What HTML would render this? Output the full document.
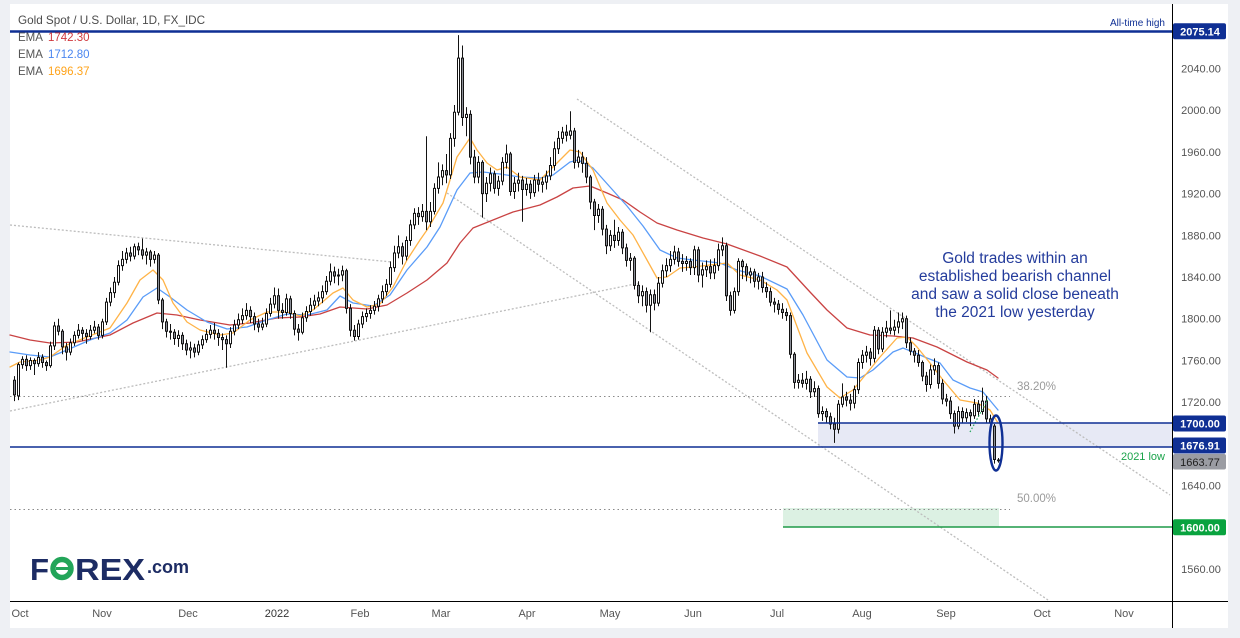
<!DOCTYPE html>
<html><head><meta charset="utf-8"><title>Gold Spot / U.S. Dollar</title>
<style>
html,body{margin:0;padding:0;background:#eef0f4;overflow:hidden;width:1240px;height:638px;}
svg{display:block;font-family:"Liberation Sans",Arial,sans-serif;}
</style></head><body>
<svg width="1240" height="638" viewBox="0 0 1240 638" xmlns="http://www.w3.org/2000/svg">
<rect width="1240" height="638" fill="#eef0f4"/>
<rect x="10" y="4" width="1218" height="624" fill="#ffffff"/>

<!-- zones -->
<rect x="818" y="423" width="354" height="24" fill="#e7e9f5"/>
<rect x="783" y="508" width="216" height="19" fill="#dcf1e3"/>

<!-- dotted trend lines -->
<g fill="none" stroke="#bdbdbd" stroke-width="1.3" stroke-dasharray="2 2">
<line x1="10" y1="225" x2="392" y2="262"/>
<line x1="10" y1="411" x2="640" y2="283"/>
<line x1="577" y1="99" x2="1170" y2="495"/>
<line x1="447" y1="193" x2="1048" y2="600"/>
</g>
<g fill="none" stroke="#8a8a8a" stroke-width="1" stroke-dasharray="1.5 3">
<line x1="10" y1="396.5" x2="1010" y2="396.5"/>
<line x1="10" y1="509.5" x2="1010" y2="509.5"/>
</g>
<text x="1017" y="390" font-size="11.5" fill="#9a9a9a">38.20%</text>
<text x="1017" y="502" font-size="11.5" fill="#9a9a9a">50.00%</text>

<!-- EMAs -->
<g fill="none" stroke-width="1.3" stroke-linejoin="round" stroke-linecap="round">
<polyline stroke="#c94343" points="10,335 30,340 50,343 77,342 110,335 133,323 157,313 177,315 200,320 230,325 250,323 277,318 300,317 320,314 340,307 367,309 387,305 407,293 427,280 447,263 460,243 473,228 493,220 513,212 540,205 557,197 573,188 590,186 607,193 623,200 640,212 657,223 677,230 703,238 727,244 760,256 787,267 810,292 827,310 847,328 870,335 893,336 913,338 937,347 967,362 987,370 998,378"/>
<polyline stroke="#5a9cf8" points="10,352 30,355 50,357 67,350 90,340 110,333 127,320 143,297 157,288 170,297 187,310 207,322 227,329 247,327 267,320 287,314 307,315 327,310 340,296 353,303 373,306 390,295 407,270 427,247 440,227 457,190 470,173 483,172 500,174 520,177 540,178 553,175 570,162 578,160 593,168 610,187 627,206 643,226 660,250 677,258 693,260 720,263 737,270 760,276 787,289 803,315 827,360 847,377 860,378 873,370 893,352 903,348 913,352 927,358 940,363 953,380 970,388 983,392 998,410"/>
<polyline stroke="#ffb347" points="10,367 20,362 40,360 50,357 67,345 87,337 110,328 127,303 140,280 153,270 163,280 173,303 187,322 200,330 220,335 233,333 250,320 267,312 287,312 300,316 313,310 333,293 343,288 353,300 367,307 380,304 393,287 407,260 420,240 427,230 443,203 457,157 470,138 477,150 487,163 497,170 507,167 520,177 540,180 553,167 570,150 580,152 593,170 607,203 620,220 633,235 647,260 657,278 667,277 680,268 693,267 710,265 727,263 740,275 760,280 777,290 787,300 807,353 827,387 840,398 853,390 867,373 880,357 897,338 907,337 917,347 930,363 943,380 960,400 977,403 990,410 998,423"/>
</g>

<!-- candles (price coordinates) -->
<g transform="matrix(1 0 0 -1.0427 0 2195.608)">
<path fill="none" stroke="#131313" stroke-width="1" vector-effect="non-scaling-stroke" d="M14.5 1721V1745M18.5 1722V1758M22.5 1752V1764M26.5 1750V1765M30.5 1751V1763M34.5 1746V1762M38.5 1754V1768M42.5 1753V1766M46.5 1750V1760M50.5 1753V1778M54.5 1770V1797M58.5 1784V1800M62.5 1766V1790M66.5 1760V1777M70.5 1765V1781M74.5 1774V1788M78.5 1781V1795M82.5 1779V1792M86.5 1776V1790M90.5 1780V1794M94.5 1786V1798M98.5 1780V1795M102.5 1781V1800M106.5 1794V1820M110.5 1812V1830M114.5 1820V1840M118.5 1832V1856M122.5 1846V1865M126.5 1853V1868M130.5 1855V1869M134.5 1857V1872M138.5 1861V1873M142.5 1857V1877M146.5 1852V1868M150.5 1850V1866M154.5 1853V1865M158.5 1814V1863M162.5 1790V1820M166.5 1782V1800M170.5 1780V1795M174.5 1775V1790M178.5 1773V1789M182.5 1770V1787M186.5 1765V1780M190.5 1762V1778M194.5 1763V1776M198.5 1765V1779M202.5 1771V1784M206.5 1777V1790M210.5 1781V1794M214.5 1780V1796M218.5 1774V1790M222.5 1770V1786M226.5 1753V1784M230.5 1772V1792M234.5 1784V1799M238.5 1790V1805M242.5 1795V1810M246.5 1799V1815M250.5 1796V1812M254.5 1789V1806M258.5 1787V1800M262.5 1789V1801M266.5 1792V1810M270.5 1802V1820M274.5 1810V1830M278.5 1800V1829M282.5 1800V1815M286.5 1803V1824M290.5 1800V1822M294.5 1784V1808M298.5 1779V1795M302.5 1785V1806M306.5 1797V1812M310.5 1803V1820M314.5 1809V1823M318.5 1812V1826M322.5 1815V1832M326.5 1823V1841M330.5 1832V1853M334.5 1834V1850M338.5 1832V1848M342.5 1836V1851M346.5 1805V1848M350.5 1783V1814M354.5 1779V1794M358.5 1780V1799M362.5 1791V1807M366.5 1797V1810M370.5 1800V1813M374.5 1804V1817M378.5 1807V1823M382.5 1815V1832M386.5 1822V1838M390.5 1830V1855M394.5 1845V1870M398.5 1858V1880M402.5 1852V1873M406.5 1856V1879M410.5 1870V1895M414.5 1886V1906M418.5 1890V1907M422.5 1893V1910M426.5 1885V1975M430.5 1888V1912M434.5 1900V1930M438.5 1920V1950M442.5 1928V1948M446.5 1930V1958M450.5 1934V1978M454.5 1965V2005M458.5 1995V2072M462.5 1985V2062M466.5 1975V2003M470.5 1948V2000M474.5 1930V1962M478.5 1930V1956M482.5 1897V1952M486.5 1912V1936M490.5 1922V1945M494.5 1920V1942M498.5 1918V1937M502.5 1928V1955M506.5 1944V1967M510.5 1918V1960M514.5 1915V1936M518.5 1922V1940M522.5 1893V1937M526.5 1918V1935M530.5 1915V1933M534.5 1917V1938M538.5 1922V1940M542.5 1921V1936M546.5 1924V1942M550.5 1933V1955M554.5 1942V1970M558.5 1958V1980M562.5 1968V1984M566.5 1970V1986M570.5 1972V1999M574.5 1944V1983M578.5 1945V1962M582.5 1940V1960M586.5 1930V1955M590.5 1905V1938M594.5 1885V1915M598.5 1892V1910M602.5 1880V1908M606.5 1862V1890M610.5 1865V1885M614.5 1868V1895M618.5 1870V1888M622.5 1862V1886M626.5 1850V1872M630.5 1846V1863M634.5 1828V1860M638.5 1815V1836M642.5 1812V1832M646.5 1806V1830M650.5 1787V1828M654.5 1808V1828M658.5 1812V1840M662.5 1830V1852M666.5 1840V1858M670.5 1845V1865M674.5 1852V1870M678.5 1850V1868M682.5 1845V1862M686.5 1846V1860M690.5 1842V1858M694.5 1842V1870M698.5 1835V1869M702.5 1830V1854M706.5 1840V1856M710.5 1838V1857M714.5 1838V1858M718.5 1846V1872M722.5 1860V1878M726.5 1817V1873M730.5 1803V1826M734.5 1805V1830M738.5 1822V1858M742.5 1838V1857M746.5 1836V1853M750.5 1834V1849M754.5 1830V1848M758.5 1828V1844M762.5 1825V1845M766.5 1820V1835M770.5 1812V1830M774.5 1806V1820M778.5 1804V1818M782.5 1800V1815M786.5 1798V1810M790.5 1762V1806M794.5 1733V1768M798.5 1733V1747M802.5 1734V1748M806.5 1732V1750M810.5 1724V1745M814.5 1725V1740M818.5 1705V1736M822.5 1702V1716M826.5 1700V1714M830.5 1694V1710M834.5 1681V1705M838.5 1690V1722M842.5 1715V1738M846.5 1716V1730M850.5 1712V1728M854.5 1714V1736M858.5 1728V1762M862.5 1752V1770M866.5 1758V1774M870.5 1755V1772M874.5 1758V1793M878.5 1766V1792M882.5 1768V1792M886.5 1782V1798M890.5 1785V1808M894.5 1784V1799M898.5 1786V1806M902.5 1790V1806M906.5 1772V1803M910.5 1765V1782M914.5 1758V1772M918.5 1754V1770M922.5 1740V1760M926.5 1730V1749M930.5 1733V1756M934.5 1746V1762M938.5 1733V1758M942.5 1718V1742M946.5 1716V1728M950.5 1704V1725M954.5 1690V1712M958.5 1694V1716M962.5 1700V1715M966.5 1701V1714M970.5 1697V1713M974.5 1704V1723M978.5 1706V1722M982.5 1708V1734M986.5 1700V1726M990.5 1695V1708M994.5 1661V1699M998.5 1662V1666.5"/>
<path fill="#ffffff" stroke="#131313" stroke-width="1" vector-effect="non-scaling-stroke" d="M17.5 1726h2V1756h-2ZM21.5 1756h2V1761h-2ZM29.5 1755h2V1760h-2ZM37.5 1757h2V1763h-2ZM49.5 1755h2V1774h-2ZM53.5 1774h2V1793h-2ZM69.5 1768h2V1777h-2ZM73.5 1777h2V1784h-2ZM77.5 1784h2V1789h-2ZM89.5 1783h2V1789h-2ZM93.5 1789h2V1792h-2ZM101.5 1784h2V1797h-2ZM105.5 1797h2V1816h-2ZM109.5 1816h2V1825h-2ZM113.5 1825h2V1835h-2ZM117.5 1835h2V1851h-2ZM121.5 1851h2V1857h-2ZM125.5 1857h2V1863h-2ZM133.5 1860h2V1869h-2ZM145.5 1861h2V1864h-2ZM153.5 1857h2V1861h-2ZM177.5 1781h2V1784h-2ZM189.5 1770h2V1772h-2ZM197.5 1768h2V1775h-2ZM201.5 1775h2V1780h-2ZM205.5 1780h2V1785h-2ZM209.5 1785h2V1789h-2ZM229.5 1776h2V1788h-2ZM233.5 1788h2V1794h-2ZM237.5 1794h2V1799h-2ZM241.5 1799h2V1803h-2ZM245.5 1803h2V1808h-2ZM261.5 1792h2V1795h-2ZM265.5 1795h2V1805h-2ZM269.5 1805h2V1814h-2ZM273.5 1814h2V1822h-2ZM285.5 1806h2V1819h-2ZM301.5 1787h2V1801h-2ZM305.5 1801h2V1807h-2ZM309.5 1807h2V1813h-2ZM313.5 1813h2V1817h-2ZM317.5 1817h2V1820h-2ZM321.5 1820h2V1826h-2ZM325.5 1826h2V1836h-2ZM329.5 1836h2V1845h-2ZM337.5 1841h2V1842h-2ZM341.5 1842h2V1846h-2ZM357.5 1783h2V1795h-2ZM361.5 1795h2V1802h-2ZM365.5 1802h2V1805h-2ZM369.5 1805h2V1808h-2ZM373.5 1808h2V1812h-2ZM377.5 1812h2V1819h-2ZM381.5 1819h2V1826h-2ZM385.5 1826h2V1833h-2ZM389.5 1833h2V1849h-2ZM393.5 1849h2V1863h-2ZM397.5 1863h2V1869h-2ZM405.5 1860h2V1875h-2ZM409.5 1875h2V1890h-2ZM413.5 1890h2V1901h-2ZM421.5 1898h2V1903h-2ZM429.5 1893h2V1903h-2ZM433.5 1903h2V1925h-2ZM437.5 1925h2V1936h-2ZM441.5 1936h2V1942h-2ZM449.5 1938h2V1973h-2ZM453.5 1973h2V1998h-2ZM457.5 1998h2V2050h-2ZM465.5 1993h2V1996h-2ZM477.5 1936h2V1950h-2ZM485.5 1920h2V1930h-2ZM489.5 1930h2V1939h-2ZM497.5 1925h2V1932h-2ZM501.5 1932h2V1950h-2ZM505.5 1950h2V1958h-2ZM513.5 1922h2V1930h-2ZM517.5 1930h2V1933h-2ZM525.5 1924h2V1929h-2ZM533.5 1921h2V1933h-2ZM541.5 1929h2V1931h-2ZM545.5 1931h2V1937h-2ZM549.5 1937h2V1947h-2ZM553.5 1947h2V1963h-2ZM557.5 1963h2V1973h-2ZM561.5 1973h2V1979h-2ZM569.5 1976h2V1980h-2ZM577.5 1950h2V1955h-2ZM597.5 1899h2V1905h-2ZM609.5 1870h2V1880h-2ZM617.5 1875h2V1883h-2ZM629.5 1856h2V1858h-2ZM641.5 1822h2V1826h-2ZM649.5 1813h2V1823h-2ZM657.5 1815h2V1834h-2ZM661.5 1834h2V1846h-2ZM665.5 1846h2V1851h-2ZM669.5 1851h2V1857h-2ZM673.5 1857h2V1864h-2ZM685.5 1853h2V1855h-2ZM693.5 1849h2V1866h-2ZM701.5 1842h2V1847h-2ZM705.5 1847h2V1850h-2ZM713.5 1844h2V1851h-2ZM717.5 1851h2V1866h-2ZM721.5 1866h2V1870h-2ZM733.5 1808h2V1826h-2ZM737.5 1826h2V1855h-2ZM749.5 1842h2V1845h-2ZM757.5 1836h2V1840h-2ZM797.5 1739h2V1741h-2ZM805.5 1738h2V1742h-2ZM813.5 1730h2V1733h-2ZM821.5 1709h2V1711h-2ZM837.5 1694h2V1718h-2ZM841.5 1718h2V1725h-2ZM853.5 1719h2V1732h-2ZM857.5 1732h2V1758h-2ZM861.5 1758h2V1765h-2ZM865.5 1765h2V1768h-2ZM873.5 1762h2V1789h-2ZM881.5 1771h2V1787h-2ZM885.5 1787h2V1791h-2ZM893.5 1789h2V1792h-2ZM897.5 1792h2V1797h-2ZM901.5 1797h2V1800h-2ZM929.5 1737h2V1751h-2ZM933.5 1751h2V1755h-2ZM957.5 1697h2V1711h-2ZM965.5 1705h2V1710h-2ZM973.5 1707h2V1718h-2ZM981.5 1711h2V1721h-2Z"/>
<path fill="#8c8f98" stroke="#131313" stroke-width="1" vector-effect="non-scaling-stroke" d="M13.5 1741h2V1727h-2ZM25.5 1761h2V1755h-2ZM33.5 1760h2V1757h-2ZM41.5 1763h2V1758h-2ZM45.5 1758h2V1755h-2ZM57.5 1793h2V1788h-2ZM61.5 1788h2V1773h-2ZM65.5 1773h2V1768h-2ZM81.5 1789h2V1786h-2ZM85.5 1786h2V1783h-2ZM97.5 1792h2V1784h-2ZM129.5 1863h2V1860h-2ZM137.5 1869h2V1866h-2ZM141.5 1866h2V1861h-2ZM149.5 1864h2V1857h-2ZM157.5 1861h2V1818h-2ZM161.5 1818h2V1797h-2ZM165.5 1797h2V1788h-2ZM169.5 1788h2V1787h-2ZM173.5 1787h2V1781h-2ZM181.5 1784h2V1776h-2ZM185.5 1776h2V1770h-2ZM193.5 1772h2V1768h-2ZM213.5 1789h2V1786h-2ZM217.5 1786h2V1782h-2ZM221.5 1782h2V1780h-2ZM225.5 1780h2V1776h-2ZM249.5 1808h2V1802h-2ZM253.5 1802h2V1795h-2ZM257.5 1795h2V1792h-2ZM277.5 1822h2V1808h-2ZM281.5 1808h2V1806h-2ZM289.5 1819h2V1805h-2ZM293.5 1805h2V1790h-2ZM297.5 1790h2V1787h-2ZM333.5 1845h2V1841h-2ZM345.5 1846h2V1810h-2ZM349.5 1810h2V1789h-2ZM353.5 1789h2V1783h-2ZM401.5 1869h2V1860h-2ZM417.5 1901h2V1898h-2ZM425.5 1903h2V1893h-2ZM445.5 1942h2V1938h-2ZM461.5 2050h2V1993h-2ZM469.5 1996h2V1955h-2ZM473.5 1955h2V1936h-2ZM481.5 1950h2V1920h-2ZM493.5 1939h2V1925h-2ZM509.5 1958h2V1922h-2ZM521.5 1933h2V1924h-2ZM529.5 1929h2V1921h-2ZM537.5 1933h2V1929h-2ZM565.5 1979h2V1976h-2ZM573.5 1980h2V1950h-2ZM581.5 1955h2V1949h-2ZM585.5 1949h2V1936h-2ZM589.5 1936h2V1912h-2ZM593.5 1912h2V1899h-2ZM601.5 1905h2V1886h-2ZM605.5 1886h2V1870h-2ZM613.5 1880h2V1875h-2ZM621.5 1883h2V1868h-2ZM625.5 1868h2V1856h-2ZM633.5 1858h2V1832h-2ZM637.5 1832h2V1822h-2ZM645.5 1826h2V1813h-2ZM653.5 1823h2V1815h-2ZM677.5 1864h2V1855h-2ZM681.5 1855h2V1853h-2ZM689.5 1855h2V1849h-2ZM697.5 1866h2V1842h-2ZM709.5 1850h2V1844h-2ZM725.5 1870h2V1822h-2ZM729.5 1822h2V1808h-2ZM741.5 1855h2V1850h-2ZM745.5 1850h2V1842h-2ZM753.5 1845h2V1836h-2ZM761.5 1840h2V1830h-2ZM765.5 1830h2V1826h-2ZM769.5 1826h2V1816h-2ZM773.5 1816h2V1814h-2ZM777.5 1814h2V1809h-2ZM781.5 1809h2V1806h-2ZM785.5 1806h2V1803h-2ZM789.5 1803h2V1766h-2ZM793.5 1766h2V1739h-2ZM801.5 1741h2V1738h-2ZM809.5 1742h2V1730h-2ZM817.5 1733h2V1709h-2ZM825.5 1711h2V1706h-2ZM829.5 1706h2V1699h-2ZM833.5 1699h2V1694h-2ZM845.5 1725h2V1722h-2ZM849.5 1722h2V1719h-2ZM869.5 1768h2V1762h-2ZM877.5 1789h2V1771h-2ZM889.5 1791h2V1789h-2ZM905.5 1800h2V1777h-2ZM909.5 1777h2V1769h-2ZM913.5 1769h2V1765h-2ZM917.5 1765h2V1758h-2ZM921.5 1758h2V1745h-2ZM925.5 1745h2V1737h-2ZM937.5 1755h2V1738h-2ZM941.5 1738h2V1723h-2ZM945.5 1723h2V1721h-2ZM949.5 1721h2V1709h-2ZM953.5 1709h2V1697h-2ZM961.5 1711h2V1705h-2ZM969.5 1710h2V1707h-2ZM977.5 1718h2V1711h-2ZM985.5 1721h2V1704h-2ZM989.5 1704h2V1700h-2ZM993.5 1697h2V1665h-2ZM997.5 1664.5h2V1663.8h-2Z"/>
</g>

<line x1="970" y1="432" x2="988" y2="399" stroke="#22a559" stroke-width="1.2" stroke-dasharray="1.5 2"/>

<!-- horizontal levels -->
<line x1="10" y1="31.5" x2="1172" y2="31.5" stroke="#0f2f94" stroke-width="2.6"/>
<line x1="818" y1="423" x2="1172" y2="423" stroke="#0f2f94" stroke-width="1.5"/>
<line x1="10" y1="447" x2="1172" y2="447" stroke="#0f2f94" stroke-width="1.5"/>
<line x1="783" y1="527" x2="1172" y2="527" stroke="#1f9a48" stroke-width="1.5"/>
<ellipse cx="996" cy="443" rx="6.5" ry="27.5" fill="none" stroke="#0f2f94" stroke-width="2.4"/>

<text x="1165" y="26" font-size="10" fill="#0f2f94" text-anchor="end">All-time high</text>
<text x="1165" y="460" font-size="11" fill="#1aa34a" text-anchor="end">2021 low</text>

<!-- annotation -->
<g font-size="15.5" fill="#243c9c" text-anchor="middle">
<text x="1015" y="263">Gold trades within an</text>
<text x="1015" y="281">established bearish channel</text>
<text x="1015" y="299">and saw a solid close beneath</text>
<text x="1015" y="317">the 2021 low yesterday</text>
</g>

<!-- axes -->
<rect x="1172" y="4" width="1" height="624" fill="#000"/>
<rect x="10" y="601" width="1218" height="1" fill="#000"/>

<g font-size="11" fill="#555" text-anchor="middle">
<text x="1201" y="30.8">2080.00</text>
<text x="1201" y="72.5">2040.00</text>
<text x="1201" y="114.2">2000.00</text>
<text x="1201" y="155.9">1960.00</text>
<text x="1201" y="197.6">1920.00</text>
<text x="1201" y="239.3">1880.00</text>
<text x="1201" y="281">1840.00</text>
<text x="1201" y="322.7">1800.00</text>
<text x="1201" y="364.5">1760.00</text>
<text x="1201" y="406.2">1720.00</text>
<text x="1201" y="489.6">1640.00</text>
<text x="1201" y="573">1560.00</text>
</g>

<!-- price boxes -->
<rect x="1173" y="23.3" width="53" height="16" rx="2" fill="#0f2f94"/>
<rect x="1173" y="415.5" width="53" height="16" rx="2" fill="#0f2f94"/>
<rect x="1173" y="437.5" width="53" height="16" rx="2" fill="#0f2f94"/>
<rect x="1173" y="454" width="53" height="15.5" rx="2" fill="#9a9ca3"/>
<rect x="1173" y="519.3" width="53" height="16" rx="2" fill="#09a33f"/>
<g font-size="11" font-weight="bold" text-anchor="middle">
<text x="1200" y="35.3" fill="#fff">2075.14</text>
<text x="1200" y="427.5" fill="#fff">1700.00</text>
<text x="1200" y="449.5" fill="#fff">1676.91</text>
<text x="1200" y="465.8" fill="#1e1e1e" font-weight="normal">1663.77</text>
<text x="1200" y="531.3" fill="#fff">1600.00</text>
</g>

<!-- time axis -->
<g font-size="11" fill="#555" text-anchor="middle">
<text x="20" y="617">Oct</text>
<text x="102" y="617">Nov</text>
<text x="188" y="617">Dec</text>
<text x="277" y="617" fill="#333">2022</text>
<text x="360" y="617">Feb</text>
<text x="441" y="617">Mar</text>
<text x="527" y="617">Apr</text>
<text x="610" y="617">May</text>
<text x="693" y="617">Jun</text>
<text x="777" y="617">Jul</text>
<text x="862" y="617">Aug</text>
<text x="946" y="617">Sep</text>
<text x="1042" y="617">Oct</text>
<text x="1124" y="617">Nov</text>
</g>

<!-- legend -->
<text x="18" y="24" font-size="11.7" fill="#4c4c4c">Gold Spot / U.S. Dollar, 1D, FX_IDC</text>
<g font-size="11.5">
<text x="18" y="41" fill="#555">EMA</text><text x="48" y="41" fill="#d0393e">1742.30</text>
<text x="18" y="58" fill="#555">EMA</text><text x="48" y="58" fill="#4a86f0">1712.80</text>
<text x="18" y="75" fill="#555">EMA</text><text x="48" y="75" fill="#ffa31a">1696.37</text>
</g>

<!-- logo -->
<g font-weight="bold" fill="#1d2c64">
<text x="30" y="580" font-size="31" textLength="19" lengthAdjust="spacingAndGlyphs">F</text>
<circle cx="62" cy="568.5" r="9" fill="none" stroke="#22a559" stroke-width="5.5"/>
<rect x="56" y="567" width="13" height="3" fill="#22a559"/>
<text x="75" y="580" font-size="31" textLength="70" lengthAdjust="spacingAndGlyphs">REX</text>
<text x="147" y="573" font-size="18" textLength="42" lengthAdjust="spacingAndGlyphs">.com</text>
</g>
</svg>
</body></html>
